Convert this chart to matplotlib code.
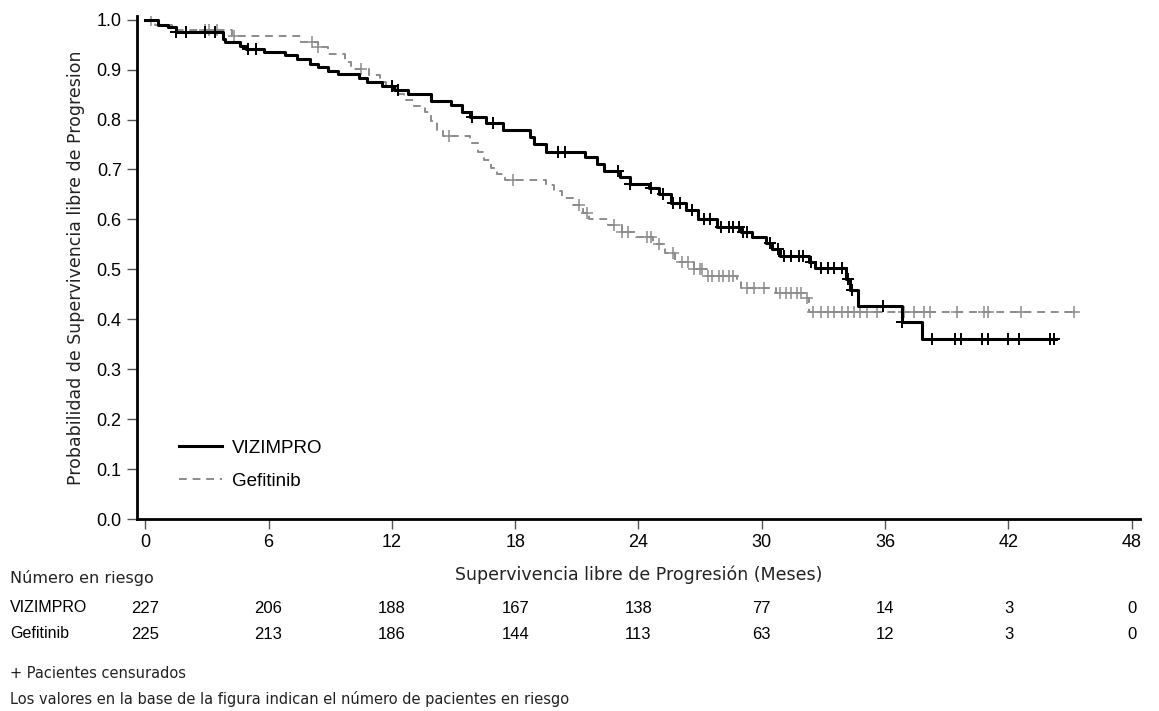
import numpy as np
import matplotlib
matplotlib.use("Agg")
from matplotlib import pyplot as plt

# ---- data ----------------------------------------------------
# VIZIMPRO: step times (months) and survival after each step
vz_t = [0, 0.6, 1.1, 1.5, 3.8, 3.9, 4.6, 4.9, 5.8, 6.8, 7.4, 8.0, 8.4, 8.9,
        9.4, 10.4, 10.8, 11.5, 12.1, 12.8, 13.9, 14.9, 15.4, 15.8, 16.6,
        17.4, 18.7, 18.9, 19.5, 21.4, 22.0, 22.3, 23.1, 23.6, 24.5, 25.0,
        25.6, 26.3, 26.9, 27.8, 29.0, 29.5, 30.2, 30.5, 30.9, 32.3, 32.6,
        34.1, 34.3, 34.7, 36.8, 37.8, 44.3]
vz_s = [1.0, 0.99, 0.985, 0.976, 0.962, 0.956, 0.948, 0.942, 0.936, 0.930,
        0.921, 0.912, 0.906, 0.898, 0.892, 0.884, 0.876, 0.868, 0.860,
        0.852, 0.838, 0.830, 0.815, 0.806, 0.793, 0.780, 0.765, 0.750,
        0.735, 0.724, 0.710, 0.697, 0.684, 0.671, 0.663, 0.650, 0.632,
        0.618, 0.600, 0.585, 0.575, 0.565, 0.552, 0.540, 0.527, 0.515,
        0.502, 0.480, 0.458, 0.427, 0.395, 0.360, 0.360]
vz_cens = [1.5, 2.0, 2.9, 3.4, 5.0, 5.4, 12.0, 12.3, 15.9, 16.9, 20.1, 20.4,
           23.0, 23.6, 24.6, 25.2, 25.7, 26.0, 26.6, 27.2, 27.5, 28.0, 28.4,
           28.6, 28.9, 29.1, 29.3, 30.4, 30.8, 31.1, 31.4, 31.8, 32.0, 32.4,
           32.9, 33.2, 33.5, 33.9, 34.2, 34.4, 35.9, 36.8, 38.3, 39.4, 39.7,
           40.7, 41.0, 42.0, 42.5, 44.0, 44.2]

# Gefitinib
gf_t = [0, 0.5, 1.3, 4.2, 7.6, 8.4, 8.9, 9.7, 10.0, 10.9, 11.4, 11.7, 12.2,
        12.6, 13.1, 13.6, 13.9, 14.2, 14.5, 15.8, 16.2, 16.5, 16.8, 17.1,
        17.5, 19.5, 19.9, 20.3, 20.8, 21.3, 21.6, 22.5, 23.2, 23.9, 24.7,
        25.3, 25.8, 26.7, 27.3, 28.8, 29.0, 30.7, 32.1, 32.3, 45.3]
gf_s = [1.0, 0.99, 0.98, 0.968, 0.955, 0.945, 0.932, 0.915, 0.902, 0.890,
        0.876, 0.866, 0.852, 0.840, 0.828, 0.815, 0.798, 0.780, 0.766,
        0.752, 0.735, 0.718, 0.703, 0.690, 0.678, 0.668, 0.657, 0.643,
        0.628, 0.612, 0.600, 0.588, 0.575, 0.565, 0.550, 0.533, 0.515,
        0.500, 0.487, 0.475, 0.463, 0.452, 0.442, 0.415, 0.415]
gf_cens = [0.3, 2.9, 3.1, 3.5, 4.3, 8.1, 8.4, 10.5, 14.8, 17.9, 21.1, 21.5,
           22.8, 23.2, 23.5, 24.4, 24.6, 25.0, 25.7, 26.1, 26.4, 26.7, 27.0,
           27.1, 27.4, 27.6, 27.9, 28.1, 28.4, 28.6, 29.3, 29.6, 30.1, 30.9,
           31.2, 31.4, 31.7, 31.9, 32.2, 32.5, 32.9, 33.2, 33.5, 33.9, 34.2,
           34.5, 34.8, 35.1, 35.6, 36.9, 37.4, 37.9, 38.2, 39.5, 40.8, 41.0,
           42.6, 45.2]

risk_times = [0, 6, 12, 18, 24, 30, 36, 42, 48]
risk_vz = [227, 206, 188, 167, 138, 77, 14, 3, 0]
risk_gf = [225, 213, 186, 144, 113, 63, 12, 3, 0]

#----------------------------------------------------------------
def level_at(times, surv, x):
  idx = np.searchsorted(times, x, side='right') - 1
  return np.array(surv)[idx]

fig = plt.figure(figsize=(11.59, 7.11), dpi=100)
ax = fig.add_axes([0.1182, 0.270, 0.8654, 0.708])

tick_font = 'Liberation Sans'
lab_font = 'DejaVu Sans'

ax.plot(gf_t, gf_s, drawstyle='steps-post', color='#8c8c8c', lw=1.4,
        dashes=(4, 3), label='Gefitinib', zorder=2)
ax.plot(gf_cens, level_at(gf_t, gf_s, gf_cens), ls='none', marker='+',
        ms=9, mew=1.1, color='#8c8c8c', zorder=2)
ax.plot(vz_t, vz_s, drawstyle='steps-post', color='black', lw=2.2,
        label='VIZIMPRO', zorder=3)
ax.plot(vz_cens, level_at(vz_t, vz_s, vz_cens), ls='none', marker='+',
        ms=9, mew=1.4, color='black', zorder=3)

ax.set_xlim(-0.4, 48.4)
ax.set_ylim(0, 1.008)
ax.set_xticks(risk_times)
ax.set_yticks(np.arange(0, 1.01, 0.1))
ax.set_yticklabels([f'{v:.1f}' for v in np.arange(0, 1.01, 0.1)])
for s in ['top', 'right']:
  ax.spines[s].set_visible(False)
for s in ['left', 'bottom']:
  ax.spines[s].set_linewidth(2)
ax.tick_params(axis='both', length=7, width=1, color='#555555',
               labelsize=13, pad=4)
for lab in ax.get_xticklabels() + ax.get_yticklabels():
  lab.set_family(tick_font)

ax.set_ylabel('Probabilidad de Supervivencia libre de Progresion',
              family=lab_font, fontsize=12.5, labelpad=8, color='#222222')
ax.set_xlabel('Supervivencia libre de Progresión (Meses)',
              family=lab_font, fontsize=12.5, labelpad=10, color='#222222')

h, l = ax.get_legend_handles_labels()
leg = ax.legend(h[::-1], l[::-1], loc='lower left',
                bbox_to_anchor=(0.025, 0.025), frameon=False,
                prop={'family': tick_font, 'size': 13.5}, handlelength=2.3,
                handletextpad=0.55, labelspacing=0.85)

# number at risk table
tr = ax.get_xaxis_transform()
fig.text(10 / 1159, 1 - 578 / 711, 'Número en riesgo', family=lab_font,
         fontsize=11.5, va='center', color='#222222')
fig.text(10 / 1159, 1 - 608 / 711, 'VIZIMPRO', family=tick_font,
         fontsize=11.5, va='center')
fig.text(10 / 1159, 1 - 634 / 711, 'Gefitinib', family=tick_font,
         fontsize=11.5, va='center')
for x, a, b in zip(risk_times, risk_vz, risk_gf):
  ax.text(x, -(608 - 519) / 503.5 * 1.008, str(a), transform=tr,
          ha='center', va='center', family=tick_font, fontsize=12)
  ax.text(x, -(634 - 519) / 503.5 * 1.008, str(b), transform=tr,
          ha='center', va='center', family=tick_font, fontsize=12)

fig.text(10 / 1159, 1 - 673 / 711, '+ Pacientes censurados', family=lab_font,
         fontsize=10.5, va='center', color='#222222')
fig.text(10 / 1159, 1 - 699 / 711,
         'Los valores en la base de la figura indican el número de pacientes en riesgo',
         family=lab_font, fontsize=10.5, va='center', color='#222222')

fig.savefig('out.png', dpi=100)
